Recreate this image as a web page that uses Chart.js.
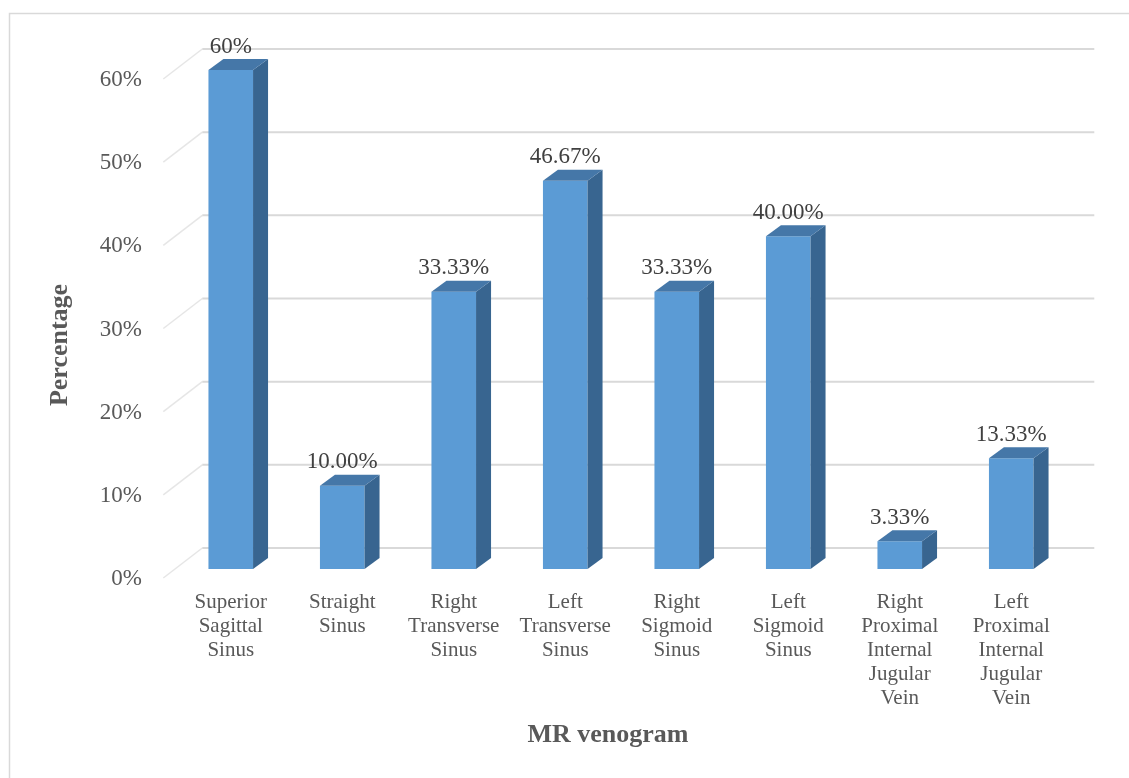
<!DOCTYPE html>
<html>
<head>
<meta charset="utf-8">
<title>MR venogram</title>
<script src="https://cdn.jsdelivr.net/npm/chart.js@4/dist/chart.umd.min.js"></script>
<style>
  body { margin: 0; background: #fff; }
  #wrap { width: 1129px; height: 778px; }
</style>
</head>
<body>
<div id="wrap"><canvas id="myChart" width="1129" height="778"></canvas></div>
<script>
// chart data
const categories = [
    ['Superior', 'Sagittal', 'Sinus'],
    ['Straight', 'Sinus'],
    ['Right', 'Transverse', 'Sinus'],
    ['Left', 'Transverse', 'Sinus'],
    ['Right', 'Sigmoid', 'Sinus'],
    ['Left', 'Sigmoid', 'Sinus'],
    ['Right', 'Proximal', 'Internal', 'Jugular', 'Vein'],
    ['Left', 'Proximal', 'Internal', 'Jugular', 'Vein']
];
const percentages = [60, 10, 33.33, 46.67, 33.33, 40, 3.33, 13.33];
const valueLabels = ['60%', '10.00%', '33.33%', '46.67%', '33.33%', '40.00%', '3.33%', '13.33%'];
const yTicks = [0, 10, 20, 30, 40, 50, 60];

const SERIF = '"Liberation Serif", "Times New Roman", serif';
const TEXT = '#595959';

// depth of the floor / walls relative to the bar plane
const FRONT = { dx: -11.7, dy: 9 };
const BACK = { dx: 27.3, dy: -21 };
// depth of each bar
const BAR_DX = 15, BAR_DY = -11;

const frame = {
    id: 'frame',
    beforeDraw(chart) {
        const ctx = chart.ctx;
        ctx.save();
        ctx.fillStyle = '#fff';
        ctx.fillRect(0, 0, chart.width, chart.height);
        ctx.strokeStyle = '#D9D9D9';
        ctx.lineWidth = 1.5;
        ctx.strokeRect(9.5, 13.5, 1300, 900);
        ctx.restore();
    }
};

// back wall gridlines and the slanted side lines
const grid3d = {
    id: 'grid3d',
    beforeDatasetsDraw(chart) {
        const { ctx, chartArea, scales: { y } } = chart;
        ctx.save();
        y.ticks.forEach(t => {
            const py = y.getPixelForValue(t.value);
            ctx.strokeStyle = '#E6E6E6';
            ctx.lineWidth = 1.5;
            ctx.beginPath();
            ctx.moveTo(chartArea.left + FRONT.dx, py + FRONT.dy);
            ctx.lineTo(chartArea.left + BACK.dx, py + BACK.dy);
            ctx.stroke();
            ctx.strokeStyle = '#D9D9D9';
            ctx.lineWidth = 2;
            ctx.beginPath();
            ctx.moveTo(chartArea.left + BACK.dx, py + BACK.dy);
            ctx.lineTo(chartArea.right + BACK.dx, py + BACK.dy);
            ctx.stroke();
        });
        ctx.restore();
    }
};

// side and top faces of the bars, plus value labels
const bars3d = {
    id: 'bars3d',
    afterDatasetsDraw(chart) {
        const ctx = chart.ctx;
        const meta = chart.getDatasetMeta(0);
        ctx.save();
        meta.data.forEach((bar, i) => {
            const l = bar.x - bar.width / 2;
            const r = bar.x + bar.width / 2;
            const top = bar.y;
            const base = bar.base;

            ctx.fillStyle = '#386590';
            ctx.beginPath();
            ctx.moveTo(r, top);
            ctx.lineTo(r + BAR_DX, top + BAR_DY);
            ctx.lineTo(r + BAR_DX, base + BAR_DY);
            ctx.lineTo(r, base);
            ctx.closePath();
            ctx.fill();

            ctx.fillStyle = '#4577A8';
            ctx.beginPath();
            ctx.moveTo(l, top);
            ctx.lineTo(l + BAR_DX, top + BAR_DY);
            ctx.lineTo(r + BAR_DX, top + BAR_DY);
            ctx.lineTo(r, top);
            ctx.closePath();
            ctx.fill();

            ctx.fillStyle = '#404040';
            ctx.font = '23px ' + SERIF;
            ctx.textAlign = 'center';
            ctx.textBaseline = 'alphabetic';
            ctx.fillText(valueLabels[i], bar.x, top - 17.5);
        });
        ctx.restore();
    }
};

// axis titles
const titles = {
    id: 'titles',
    afterDraw(chart) {
        const ctx = chart.ctx;
        ctx.save();
        ctx.fillStyle = TEXT;
        ctx.font = 'bold 26px ' + SERIF;
        ctx.textAlign = 'center';
        ctx.textBaseline = 'middle';
        ctx.fillText('MR venogram', 608, 735);
        ctx.translate(60, 345);
        ctx.rotate(-Math.PI / 2);
        ctx.fillText('Percentage', 0, 0);
        ctx.restore();
    }
};

const ctx = document.getElementById('myChart').getContext('2d');
const myChart = new Chart(ctx, {
    type: 'bar',
    data: {
        labels: categories,
        datasets: [{
            label: 'MR venogram',
            data: percentages,
            backgroundColor: '#5B9BD5',
            borderWidth: 0,
            barPercentage: 0.4,
            categoryPercentage: 1,
            clip: false
        }]
    },
    options: {
        responsive: false,
        animation: false,
        layout: { padding: { top: 70, right: 62, left: 0, bottom: 0 } },
        plugins: {
            legend: { display: false },
            tooltip: { enabled: false }
        },
        scales: {
            x: {
                grid: { display: false, drawTicks: false },
                border: { display: false },
                ticks: {
                    color: TEXT,
                    font: { family: SERIF, size: 21, lineHeight: 1.15 },
                    padding: 21,
                    maxRotation: 0,
                    autoSkip: false
                },
                afterFit(scale) { scale.height = 209; }
            },
            y: {
                min: 0,
                max: 60,
                grid: { display: false, drawTicks: false },
                border: { display: false },
                afterBuildTicks(scale) { scale.ticks = yTicks.map(v => ({ value: v })); },
                ticks: {
                    color: TEXT,
                    font: { family: SERIF, size: 23 },
                    padding: 33,
                    labelOffset: 10,
                    callback: v => v + '%'
                },
                afterFit(scale) { scale.width = 175; }
            }
        }
    },
    plugins: [frame, grid3d, bars3d, titles]
});
</script>
</body>
</html>
